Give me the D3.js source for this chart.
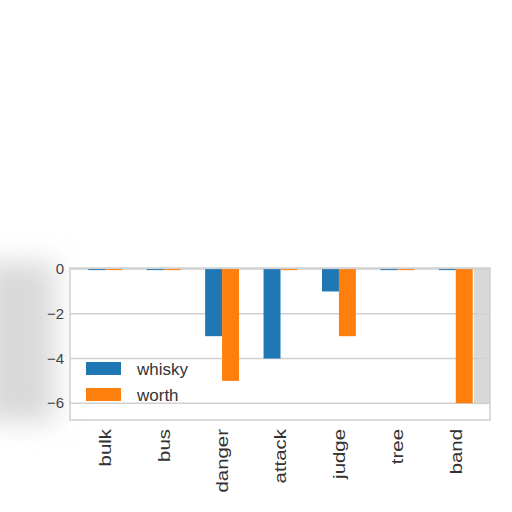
<!DOCTYPE html>
<html>
<head>
<meta charset="utf-8">
<script src="https://cdn.jsdelivr.net/npm/d3@7"></script>
<style>
  body { margin: 0; background: #fff; }
  text { font-family: "Liberation Sans", Arial, sans-serif; }
</style>
</head>
<body>
<div id="chart"></div>
<script>
// chart data
const categories = ["bulk", "bus", "danger", "attack", "judge", "tree", "band"];
const seriesNames = ["whisky", "worth"];
const whisky = [0, 0, -3, -4, -1, 0, 0];
const worth = [0, 0, -5, 0, -3, 0, -6];
const yTicks = [0, -2, -4, -6];
const colors = ["#1f77b4", "#ff7f0e"];

const width = 512, height = 512;
const margin = { top: 268, left: 70, right: 22, bottom: 92 };

var svg = d3.select("#chart").append("svg")
  .attr("width", width)
  .attr("height", height);

// soft grey smudge left of the frame
var defs = svg.append("defs");
defs.append("filter").attr("id", "blur")
  .attr("x", "-50%").attr("y", "-50%").attr("width", "200%").attr("height", "200%")
  .append("feGaussianBlur").attr("stdDeviation", 14);
svg.append("rect").attr("x", -20).attr("y", 262).attr("width", 75).attr("height", 160)
  .attr("fill", "#d9d9d9").attr("filter", "url(#blur)");

var x = d3.scaleBand()
  .domain(categories)
  .range([margin.left + 6, width - margin.right - 5]);

var y = d3.scaleLinear()
  .domain([-6.75, 0.05])
  .range([height - margin.bottom, margin.top]);

var plotW = width - margin.left - margin.right;
var plotH = height - margin.top - margin.bottom;

// plot background
svg.append("rect")
  .attr("x", margin.left).attr("y", margin.top)
  .attr("width", plotW).attr("height", plotH)
  .attr("fill", "#fff");

// grey band on the right edge
svg.append("rect")
  .attr("x", width - margin.right - 16).attr("y", margin.top + 1)
  .attr("width", 16).attr("height", y(-6) - margin.top)
  .attr("fill", "#d8d8d8");

// gridlines
svg.append("g")
  .selectAll("line")
  .data(yTicks)
  .enter()
  .append("line")
  .attr("x1", margin.left).attr("x2", width - margin.right)
  .attr("y1", function(d) { return y(d); })
  .attr("y2", function(d) { return y(d); })
  .attr("stroke", "#d0d0d0")
  .attr("stroke-width", 1.5);

// bars
var barW = x.bandwidth() * 0.29;
var series = [whisky, worth];
series.forEach(function(values, s) {
  svg.append("g")
    .selectAll("rect")
    .data(values)
    .enter()
    .append("rect")
    .attr("x", function(d, i) {
      return x(categories[i]) + x.bandwidth() / 2 - barW + s * barW;
    })
    .attr("y", y(0))
    .attr("width", barW)
    .attr("height", function(d) { return Math.max(1, y(d) - y(0)); })
    .attr("fill", colors[s]);
});

// frame
svg.append("rect")
  .attr("x", margin.left).attr("y", margin.top)
  .attr("width", plotW).attr("height", plotH)
  .attr("fill", "none")
  .attr("stroke", "#cfcfcf")
  .attr("stroke-width", 1.5);

// y tick labels
svg.append("g")
  .selectAll("text")
  .data(yTicks)
  .enter()
  .append("text")
  .attr("x", margin.left - 6)
  .attr("y", function(d) { return y(d); })
  .attr("dy", "0.35em")
  .attr("text-anchor", "end")
  .attr("font-size", 15)
  .attr("fill", "#444")
  .text(function(d) { return d === 0 ? "0" : "\u2212" + Math.abs(d); });

// x tick labels, rotated (slightly stretched along the text)
svg.append("g")
  .selectAll("text")
  .data(categories)
  .enter()
  .append("text")
  .attr("transform", function(d) {
    return "translate(" + (x(d) + x.bandwidth() / 2) + "," + (height - margin.bottom + 9) + ") rotate(-90) scale(1.2,1)";
  })
  .attr("dy", "0.35em")
  .attr("text-anchor", "end")
  .attr("font-size", 17)
  .attr("fill", "#333")
  .text(function(d) { return d; });

// legend
var legend = svg.append("g");
seriesNames.forEach(function(name, i) {
  legend.append("rect")
    .attr("x", 86).attr("y", 362 + i * 26)
    .attr("width", 35).attr("height", 13)
    .attr("fill", colors[i]);
  legend.append("text")
    .attr("x", 137).attr("y", 369 + i * 26)
    .attr("dy", "0.35em")
    .attr("font-size", 17)
    .attr("fill", "#333")
    .text(name);
});
</script>
</body>
</html>
